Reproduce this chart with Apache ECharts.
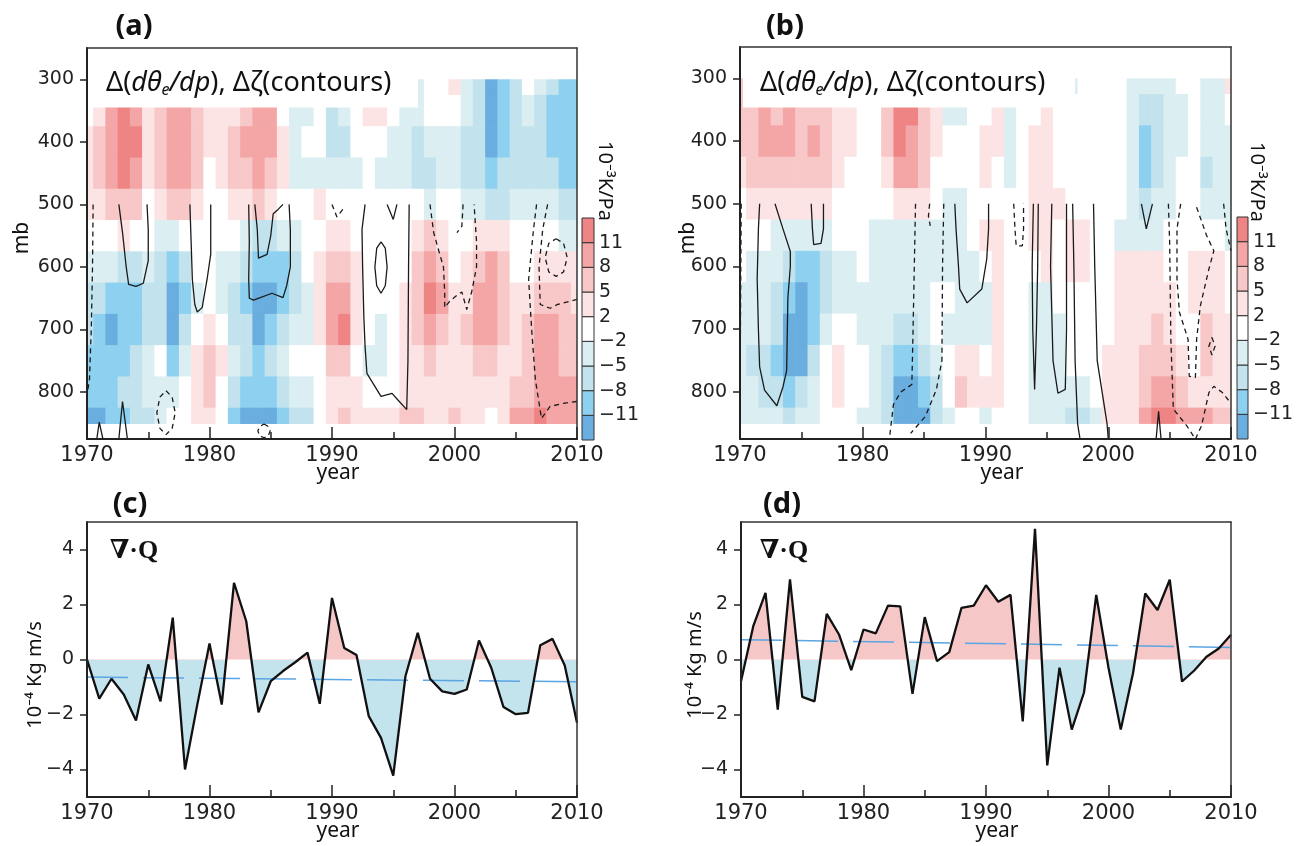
<!DOCTYPE html>
<html><head><meta charset="utf-8">
<script src="https://cdn.jsdelivr.net/npm/echarts@6/dist/echarts.min.js"></script>
<style>html,body{margin:0;padding:0;background:#fff}#main{width:1299px;height:846px}</style>
</head><body><div id="main"></div>
<script>
// ---------------- DATA ----------------
const YEARS = [1970,1971,1972,1973,1974,1975,1976,1977,1978,1979,1980,1981,1982,1983,1984,1985,1986,1987,1988,1989,1990,1991,1992,1993,1994,1995,1996,1997,1998,1999,2000,2001,2002,2003,2004,2005,2006,2007,2008,2009,2010];
const LEVELS = [300,350,400,450,500,550,600,650,700,750,800,850];
const P_TICKS = [300,400,500,600,700,800];
const Q_TICKS = [-4,-2,0,2,4];
const CB_BOUNDS = [-11,-8,-5,-2,2,5,8,11];
const CB_LABELS = ['\u221211','\u22128','\u22125','\u22122','2','5','8','11'];

// panel (a): d(theta_e)/dp anomaly, 10^-3 K/Pa, rows by level, columns 1970..2010 (null = hidden under title box)
const N27 = [null,null,null,null,null,null,null,null,null,null,null,null,null,null,null,null,null,null,null,null,null,null,null,null,null,null,null];
const A_300 = N27.concat([-3.5,0,0,3.5,-3.5,-6.5,-12,-9.5,-6.5,0,-3.5,-6.5,-9.5,-9.5]);
const A_350 = [0,3.5,9.5,12,9.5,3.5,6.5,9.5,9.5,6.5, 3.5,3.5,3.5,6.5,9.5,9.5,0,-3.5,-3.5,0, -6.5,-3.5,0,3.5,3.5,0,-3.5,-3.5,0,0, 0,-3.5,-6.5,-12,-9.5,-6.5,-3.5,-6.5,-9.5,-9.5, -9.5];
const A_400 = [3.5,6.5,9.5,12,12,3.5,6.5,9.5,9.5,6.5, 3.5,3.5,6.5,9.5,9.5,9.5,3.5,-3.5,0,0, -6.5,-6.5,0,0,0,-3.5,-3.5,-6.5,-3.5,-3.5, -3.5,-6.5,-6.5,-12,-9.5,-6.5,-6.5,-6.5,-9.5,-9.5, -9.5];
const A_450 = [3.5,6.5,9.5,12,9.5,3.5,6.5,9.5,9.5,6.5, 0,3.5,6.5,6.5,9.5,6.5,3.5,-3.5,-3.5,-3.5, -3.5,-3.5,-3.5,0,-3.5,-3.5,-3.5,-6.5,-6.5,-3.5, -3.5,-6.5,-6.5,-9.5,-6.5,-6.5,-6.5,-6.5,-6.5,-9.5, -9.5];
const A_500 = [3.5,3.5,6.5,6.5,6.5,0,3.5,6.5,6.5,3.5, 0,0,3.5,3.5,6.5,3.5,0,0,0,3.5, 0,0,0,0,0,0,0,0,-3.5,0, 0,-3.5,-3.5,-6.5,-6.5,-3.5,-3.5,-3.5,-3.5,-6.5, -6.5];
const A_550 = [0,0,0,3.5,0,0,-3.5,-3.5,0,0, 0,0,0,-3.5,-6.5,-6.5,-3.5,-3.5,0,0, 3.5,3.5,0,0,0,0,0,3.5,6.5,3.5, 0,0,3.5,3.5,3.5,0,0,0,0,-3.5, -3.5];
const A_600 = [-3.5,-3.5,-3.5,-6.5,-6.5,-3.5,-6.5,-9.5,-6.5,0, 0,-3.5,-3.5,-6.5,-9.5,-9.5,-9.5,-6.5,0,3.5, 6.5,6.5,3.5,0,0,0,0,6.5,9.5,6.5, 0,3.5,6.5,9.5,6.5,0,0,3.5,3.5,3.5, 3.5];
const A_650 = [-6.5,-6.5,-9.5,-9.5,-9.5,-6.5,-6.5,-12,-9.5,-3.5, 0,-3.5,-6.5,-9.5,-12,-12,-9.5,-6.5,-3.5,3.5, 9.5,9.5,3.5,0,0,0,3.5,6.5,12,9.5, 3.5,3.5,9.5,9.5,6.5,3.5,3.5,6.5,6.5,6.5, 3.5];
const A_700 = [-6.5,-9.5,-12,-9.5,-9.5,-6.5,-6.5,-12,-6.5,0, 3.5,0,-6.5,-6.5,-12,-9.5,-6.5,-3.5,-3.5,3.5, 9.5,12,3.5,0,-3.5,0,3.5,6.5,9.5,6.5, 3.5,6.5,9.5,9.5,6.5,3.5,6.5,9.5,9.5,6.5, 6.5];
const A_750 = [-9.5,-9.5,-9.5,-9.5,-6.5,-3.5,0,-9.5,-3.5,3.5, 6.5,3.5,-3.5,-6.5,-9.5,-6.5,-3.5,0,0,0, 6.5,6.5,0,-3.5,-3.5,0,3.5,3.5,6.5,3.5, 3.5,3.5,6.5,6.5,3.5,3.5,6.5,9.5,9.5,6.5, 6.5];
const A_800 = [-9.5,-9.5,-9.5,-6.5,-6.5,-3.5,-3.5,-3.5,0,3.5, 6.5,0,-6.5,-9.5,-9.5,-9.5,-6.5,-3.5,-3.5,0, 3.5,3.5,3.5,0,0,0,3.5,3.5,3.5,3.5, 3.5,3.5,3.5,3.5,3.5,6.5,6.5,9.5,9.5,9.5, 9.5];
const A_850 = [-12,-12,-9.5,-9.5,-6.5,-6.5,-3.5,0,0,3.5, 3.5,0,-9.5,-12,-12,-12,-9.5,-6.5,-6.5,0, 3.5,6.5,3.5,3.5,3.5,3.5,6.5,6.5,3.5,3.5, 6.5,3.5,3.5,0,3.5,9.5,9.5,12,9.5,9.5, 9.5];

// panel (b)
const N26 = [null,null,null,null,null,null,null,null,null,null,null,null,null,null,null,null,null,null,null,null,null,null,null,null,null,null];
const B_300 = [6.5].concat(N26, [-3.5,0,0,0,0,-3.5,-3.5,-3.5,-3.5,0,0,-3.5,-3.5,3.5]);
const B_350 = [6.5,6.5,9.5,6.5,9.5,6.5,6.5,6.5,3.5,3.5, 0,0,6.5,12,12,6.5,3.5,-3.5,-3.5,0, 0,3.5,-3.5,0,0,3.5,0,0,0,0, 0,0,-3.5,-6.5,-6.5,-3.5,-3.5,0,-3.5,-3.5, 0];
const B_400 = [6.5,6.5,9.5,9.5,9.5,6.5,9.5,6.5,3.5,3.5, 0,0,6.5,12,9.5,6.5,3.5,0,0,0, 3.5,3.5,-3.5,0,3.5,3.5,0,0,0,0, 0,0,-3.5,-9.5,-6.5,-3.5,-3.5,0,-3.5,-3.5, -3.5];
const B_450 = [3.5,6.5,6.5,6.5,6.5,6.5,6.5,6.5,3.5,0, 0,0,3.5,9.5,9.5,6.5,0,0,0,0, 3.5,0,-3.5,0,3.5,3.5,0,0,0,0, 0,0,-3.5,-9.5,-6.5,-3.5,0,0,-6.5,-3.5, -3.5];
const B_500 = [0,3.5,3.5,3.5,3.5,3.5,3.5,3.5,0,0, 0,0,0,3.5,3.5,3.5,0,-3.5,-3.5,0, 0,0,0,0,3.5,3.5,3.5,0,0,0, 0,0,-3.5,-6.5,-3.5,-3.5,0,0,-3.5,-3.5, -3.5];
const B_550 = [0,0,0,-3.5,-3.5,-3.5,-3.5,-3.5,0,0, 0,-3.5,-3.5,-3.5,-3.5,-3.5,-3.5,-3.5,-3.5,0, 3.5,3.5,0,0,3.5,3.5,0,3.5,3.5,0, 0,-3.5,-3.5,-3.5,-3.5,0,0,0,0,0, -3.5];
const B_600 = [0,-3.5,-3.5,-3.5,-6.5,-9.5,-9.5,-6.5,-3.5,-3.5, 0,-3.5,-3.5,-3.5,-3.5,-3.5,-3.5,-3.5,-3.5,-3.5, 0,3.5,0,0,0,3.5,0,3.5,3.5,0, 0,3.5,3.5,3.5,3.5,0,0,3.5,3.5,3.5, 0];
const B_650 = [-3.5,-3.5,-3.5,-6.5,-9.5,-12,-9.5,-6.5,-3.5,-3.5, -3.5,-3.5,-3.5,-3.5,-3.5,-3.5,0,0,-3.5,-3.5, -3.5,3.5,0,0,-3.5,-3.5,0,0,0,0, 0,3.5,3.5,3.5,3.5,3.5,0,3.5,3.5,3.5, 0];
const B_700 = [-3.5,-3.5,-3.5,-6.5,-12,-12,-9.5,-3.5,0,0, -3.5,-3.5,-3.5,-6.5,-6.5,-3.5,0,-3.5,-3.5,-3.5, -3.5,3.5,0,0,-3.5,-3.5,-3.5,0,0,0, 0,3.5,3.5,3.5,6.5,3.5,0,0,6.5,3.5, 3.5];
const B_750 = [-3.5,-6.5,-6.5,-9.5,-12,-12,-6.5,0,3.5,0, 0,-3.5,-6.5,-9.5,-9.5,-6.5,-3.5,0,3.5,3.5, 0,3.5,0,0,-3.5,-3.5,-3.5,0,0,0, 3.5,3.5,3.5,6.5,6.5,6.5,3.5,0,6.5,3.5, 3.5];
const B_800 = [-3.5,-3.5,-6.5,-6.5,-9.5,-6.5,-3.5,0,3.5,0, 0,-3.5,-6.5,-12,-12,-9.5,-6.5,0,6.5,3.5, 3.5,3.5,0,0,-3.5,-3.5,-3.5,-3.5,-3.5,0, 3.5,3.5,3.5,6.5,9.5,9.5,6.5,3.5,3.5,3.5, 3.5];
const B_850 = [-3.5,-3.5,-3.5,-3.5,-6.5,-3.5,-3.5,0,0,0, -3.5,-3.5,-6.5,-12,-12,-12,-6.5,-3.5,0,0, -3.5,0,0,0,-3.5,-3.5,-3.5,-6.5,-6.5,-3.5, 3.5,3.5,3.5,9.5,12,12,9.5,9.5,9.5,6.5, 6.5];

// vorticity contours (year, mb)
const A_CS1 = [[1972.6,500],[1972.9,545],[1973.2,600],[1973.4,628],[1974.0,631],[1974.6,626],[1975.0,590],[1975.0,540],[1974.9,500]];
const A_CS2 = [[1978.4,500],[1978.5,560],[1978.6,620],[1978.8,660],[1979.0,672],[1979.4,665],[1979.8,620],[1980.1,580],[1980.1,500]];
const A_CS3 = [[1983.2,500],[1983.25,560],[1983.2,620],[1983.25,650],[1983.6,653],[1985.1,642],[1986.0,649],[1986.3,630],[1986.6,600],[1986.6,540],[1986.5,500]];
const A_CS4 = [[1983.7,500],[1983.9,540],[1984.0,586],[1984.7,580],[1985.0,550],[1985.2,515],[1985.6,508],[1986.0,500]];
const A_CS5 = [[1992.7,500],[1992.45,540],[1992.5,600],[1992.6,680],[1992.7,727],[1992.85,770],[1994.0,807],[1994.9,802],[1995.4,813],[1996.1,828],[1996.2,750],[1996.25,600],[1996.3,500]];
const A_CS6 = [[1994.0,560],[1994.35,570],[1994.5,600],[1994.35,630],[1994.0,642],[1993.65,630],[1993.5,600],[1993.65,570],[1994.0,560]];
const A_CS7 = [[1994.5,500],[1995.0,524],[1995.3,500]];
const A_CS8 = [[1970.8,875],[1971.0,848],[1971.3,875]];
const A_CS9 = [[1972.6,875],[1972.9,815],[1973.3,875]];
const A_CD1 = [[1970.5,500],[1970.45,600],[1970.35,700],[1970.2,780],[1970.0,805]];
const A_CD2 = [[1998.0,500],[1998.3,545],[1998.8,580],[1999.1,600],[1999.2,640],[1999.2,665],[1999.6,655],[2000.2,645],[2000.6,640],[2001.0,668],[2001.4,640],[2001.8,600],[2001.8,560],[2001.6,500]];
const A_CD3 = [[2000.7,500],[2000.6,535],[2000.2,545]];
const A_CD4 = [[2006.7,500],[2006.45,540],[2006.05,620],[2006.3,700],[2006.6,780],[2007.1,842],[2007.8,823],[2008.9,818],[2010,815]];
const A_CD5 = [[2007.6,500],[2007.2,540],[2006.9,600],[2007.0,660],[2007.8,666],[2008.4,660],[2010,652]];
const A_CD6 = [[2008.3,555],[2008.9,562],[2009.2,585],[2008.9,608],[2008.3,615],[2007.7,608],[2007.4,585],[2007.7,562],[2008.3,555]];
const A_CD7 = [[1976.45,798],[1976.95,808],[1977.2,833],[1976.95,858],[1976.45,868],[1975.95,858],[1975.7,833],[1975.95,808],[1976.45,798]];
const A_CD8 = [[1984.45,851],[1984.8,855],[1984.95,862],[1984.8,870],[1984.45,873],[1984.1,870],[1983.95,862],[1984.1,855],[1984.45,851]];
const A_CD9 = [[1990.0,500],[1990.4,520],[1991.0,505]];

const B_CS1 = [[1971.6,500],[1971.5,540],[1971.4,620],[1971.5,700],[1971.6,760],[1972.0,797],[1973.0,822],[1973.5,792],[1973.8,766],[1973.9,650],[1974.1,600],[1974.1,576],[1973.5,540],[1972.85,500]];
const B_CS2 = [[1975.8,500],[1975.9,540],[1976.0,565],[1976.6,563],[1976.8,540],[1976.8,500]];
const B_CS3 = [[1987.5,500],[1987.6,540],[1987.8,600],[1987.9,636],[1988.5,658],[1989.7,636],[1990.1,588],[1990.25,540],[1990.25,500]];
const B_CS4 = [[1993.9,500],[1993.8,600],[1993.85,700],[1994.0,796],[1994.15,700],[1994.25,600],[1994.3,500]];
const B_CS5 = [[1995.4,500],[1995.3,600],[1995.5,750],[1995.9,802],[1996.5,796],[1996.6,700],[1996.6,500]];
const B_CS6 = [[1997.1,500],[1997.2,600],[1997.3,750],[1997.5,850],[1997.7,875]];
const B_CS7 = [[1998.8,500],[1998.9,600],[1999.1,750],[1999.9,850],[2000.0,875]];
const B_CS8 = [[2002.7,500],[2003.1,540],[2003.6,500]];
const B_CS9 = [[2003.9,875],[2004.1,831],[2004.3,875]];
const B_CD1 = [[1970.1,500],[1970.05,650],[1970.0,830]];
const B_CD2 = [[1984.3,500],[1984.2,600],[1984.1,700],[1984.0,788],[1983.1,800],[1982.5,820],[1982.2,870]];
const B_CD3 = [[1986.6,500],[1986.5,600],[1986.45,750],[1986.0,796],[1985.1,839],[1983.9,866]];
const B_CD4 = [[1985.45,500],[1985.35,520],[1985.5,535]];
const B_CD5 = [[1992.3,500],[1992.4,540],[1992.5,567],[1993.0,567],[1993.1,540],[1993.1,500]];
const B_CD6 = [[2004.9,500],[2005.0,560],[2005.1,716],[2005.3,827],[2006.4,854],[2007.1,875]];
const B_CD7 = [[2007.1,875],[2007.6,854],[2008.2,801],[2008.6,791],[2009.3,801],[2010,818]];
const B_CD8 = [[2009.4,500],[2009.6,540],[2010,575]];
const B_CD9 = [[2005.9,500],[2005.6,540],[2005.6,620],[2005.8,673],[2006.5,716],[2006.6,775],[2007.1,777],[2007.2,716],[2007.5,663],[2008.2,604],[2008.6,575],[2008.0,550],[2007.1,500]];
const B_CD10 = [[2008.45,713],[2008.7,727],[2008.45,741],[2008.2,727],[2008.45,713]];
const B_LABEL = [[1993.85,816]];
const B_LABEL_TEXT = '2.5';

// panels (c),(d): divergence of moisture flux, 10^-4 Kg m/s
const C_VALUES = [0,-1.42,-0.70,-1.27,-2.22,-0.18,-1.52,1.52,-4.0,-1.65, 0.58,-1.64,2.79,1.39,-1.92,-0.79,-0.42,-0.10,0.25,-1.61, 2.24,0.42,0.16,-2.06,-2.85,-4.22,-0.60,0.97,-0.70,-1.16, -1.25,-1.09,0.69,-0.30,-1.73,-1.99,-1.94,0.52,0.75,-0.22, -2.30];
const D_VALUES = [-0.79,1.21,2.42,-1.82,2.91,-1.36,-1.52,1.66,0.91,-0.39, 1.09,0.95,1.96,1.93,-1.25,1.54,-0.06,0.27,1.88,1.96, 2.70,2.10,2.35,-2.25,4.75,-3.85,-0.30,-2.55,-1.20,2.35, -0.30,-2.55,-0.50,2.40,1.80,2.90,-0.80,-0.40,0.10,0.40, 0.90];
const C_TREND = [[1970,-0.64],[2010,-0.81]];
const D_TREND = [[1970,0.72],[2010,0.44]];

// ---------------- STYLE / BUILD ----------------
const LEVEL_COLORS = ['#6aaddf','#8ed0f0','#c2e3ed','#dbeef1','#ffffff','#fce4e4','#f8c7c7','#f4a5a5','#ee8484'];
const FILL_POS = '#f5c7c7', FILL_NEG = '#c3e3ed';
const TICK_FONT = '"DejaVu Sans", sans-serif';
const TEXT_FONT = '"Noto Sans", "Open Sans", sans-serif';
const AX = '#222';

function colorOf(v){ let i=0; while(i<CB_BOUNDS.length && v>CB_BOUNDS[i]) i++; return LEVEL_COLORS[i]; }
function heatData(rows){ const out=[]; rows.forEach((row,li)=>row.forEach((v,yi)=>{ if(v!==null) out.push([YEARS[yi], LEVELS[li], v]); })); return out; }
function heatRender(params, api){
  const yr=api.value(0), p=api.value(1), v=api.value(2);
  const x0=Math.max(yr-0.5,1970), x1=Math.min(yr+0.5,2010);
  const p0=Math.max(p-25,300), p1=Math.min(p+25,850);
  const a=api.coord([x0,p0]), b=api.coord([x1,p1]);
  return {type:'rect', shape:{x:Math.min(a[0],b[0]), y:Math.min(a[1],b[1]), width:Math.abs(b[0]-a[0])+0.6, height:Math.abs(b[1]-a[1])+0.6}, style:{fill:colorOf(v)}};
}
function cbRender(params, api){
  const i=api.value(1);
  const a=api.coord([0,i]), b=api.coord([1,i+1]);
  return {type:'rect', shape:{x:a[0], y:b[1], width:b[0]-a[0], height:a[1]-b[1]}, style:{fill:LEVEL_COLORS[i], stroke:'#333', lineWidth:1}};
}
const CB_DATA = LEVEL_COLORS.map((c,i)=>[0.5,i]);

const grids = [
  {left:87, top:48, width:490, height:391},     // 0 a
  {left:582, top:218, width:12, height:222},    // 1 cb a
  {left:740, top:47, width:491, height:392},    // 2 b
  {left:1237, top:217, width:11, height:222},   // 3 cb b
  {left:87, top:522, width:490, height:275},    // 4 c
  {left:741, top:522, width:490, height:275}    // 5 d
].map(g=>Object.assign({containLabel:false, outerBoundsMode:'none'}, g));

function yearAxis(gi){
  return {gridIndex:gi, type:'value', min:1970, max:2010, interval:10, z:10,
    axisLine:{show:true, onZero:false, lineStyle:{color:AX, width:2}},
    axisTick:{show:true, inside:true, length:12, lineStyle:{color:AX, width:1.5}},
    minorTick:{show:true, splitNumber:2, length:7, lineStyle:{color:AX, width:1.5}},
    axisLabel:{fontSize:21, color:AX, margin:6, fontFamily:TICK_FONT, formatter:v=>String(v)},
    splitLine:{show:false}, minorSplitLine:{show:false}};
}
function frameAxisX(gi,min,max){ return {gridIndex:gi, type:'value', position:'top', min:min, max:max, z:10, axisLine:{show:true, onZero:false, lineStyle:{color:'#333', width:1.5}}, axisTick:{show:false}, axisLabel:{show:false}, splitLine:{show:false}}; }
function frameAxisY(gi,min,max,inv){ return {gridIndex:gi, type:'value', position:'right', min:min, max:max, inverse:!!inv, z:10, axisLine:{show:true, onZero:false, lineStyle:{color:'#333', width:1.5}}, axisTick:{show:false}, axisLabel:{show:false}, splitLine:{show:false}}; }
function presAxis(gi){
  return {gridIndex:gi, type:'value', min:250, max:875, inverse:true, z:10,
    axisLine:{show:true, onZero:false, lineStyle:{color:AX, width:2}},
    axisTick:{show:true, customValues:P_TICKS, length:7, lineStyle:{color:AX, width:1.5}},
    axisLabel:{customValues:P_TICKS, fontSize:19, color:AX, margin:13, fontFamily:TICK_FONT},
    splitLine:{show:false}};
}
function qAxis(gi){
  return {gridIndex:gi, type:'value', min:-5, max:5, z:10,
    axisLine:{show:true, onZero:false, lineStyle:{color:AX, width:2}},
    axisTick:{show:true, customValues:Q_TICKS, length:7, lineStyle:{color:AX, width:1.5}},
    axisLabel:{customValues:Q_TICKS, fontSize:19, color:AX, margin:13, fontFamily:TICK_FONT, formatter:v=>String(v).replace('-','\u2212')},
    splitLine:{show:false}};
}
function cbX(gi){ return {gridIndex:gi, type:'value', min:0, max:1, show:false}; }
function cbY(gi){
  return {gridIndex:gi, type:'value', min:0, max:9, position:'right',
    axisLine:{show:false}, axisTick:{show:false}, splitLine:{show:false},
    axisLabel:{customValues:[1,2,3,4,5,6,7,8], formatter:v=>CB_LABELS[v-1], fontSize:19, color:AX, margin:5, fontFamily:TICK_FONT}};
}

const xAxes = [yearAxis(0), cbX(1), yearAxis(2), cbX(3), yearAxis(4), yearAxis(5),
  frameAxisX(0,1970,2010), frameAxisX(2,1970,2010), frameAxisX(4,1970,2010), frameAxisX(5,1970,2010)];
const yAxes = [presAxis(0), cbY(1), presAxis(2), cbY(3), qAxis(4), qAxis(5),
  frameAxisY(0,250,875,true), frameAxisY(2,250,875,true), frameAxisY(4,-5,5), frameAxisY(5,-5,5)];

const series = [];
series.push({type:'custom', xAxisIndex:0, yAxisIndex:0, renderItem:heatRender, clip:true, silent:true, z:1,
  data:heatData([A_300,A_350,A_400,A_450,A_500,A_550,A_600,A_650,A_700,A_750,A_800,A_850])});
series.push({type:'custom', xAxisIndex:2, yAxisIndex:2, renderItem:heatRender, clip:true, silent:true, z:1,
  data:heatData([B_300,B_350,B_400,B_450,B_500,B_550,B_600,B_650,B_700,B_750,B_800,B_850])});
series.push({type:'custom', xAxisIndex:1, yAxisIndex:1, renderItem:cbRender, clip:false, silent:true, data:CB_DATA});
series.push({type:'custom', xAxisIndex:3, yAxisIndex:3, renderItem:cbRender, clip:false, silent:true, data:CB_DATA});

function contour(pts, ax, dashed){
  return {type:'line', xAxisIndex:ax, yAxisIndex:ax, data:pts, symbol:'none', showSymbol:false, silent:true, clip:true, z:5,
    lineStyle:{color:'#1a1a1a', width:1.3, type: dashed ? [5,4] : 'solid'}};
}
[A_CS1,A_CS2,A_CS3,A_CS4,A_CS5,A_CS6,A_CS7,A_CS8,A_CS9].forEach(c=>series.push(contour(c,0,false)));
[A_CD1,A_CD2,A_CD3,A_CD4,A_CD5,A_CD6,A_CD7,A_CD8,A_CD9].forEach(c=>series.push(contour(c,0,true)));
[B_CS1,B_CS2,B_CS3,B_CS4,B_CS5,B_CS6,B_CS7,B_CS8,B_CS9].forEach(c=>series.push(contour(c,2,false)));
[B_CD1,B_CD2,B_CD3,B_CD4,B_CD5,B_CD6,B_CD7,B_CD8,B_CD9,B_CD10].forEach(c=>series.push(contour(c,2,true)));
series.push({type:'scatter', xAxisIndex:2, yAxisIndex:2, data:B_LABEL, symbolSize:1, itemStyle:{opacity:0}, silent:true, z:6,
  label:{show:true, position:'inside', formatter:B_LABEL_TEXT, fontSize:13, color:'#333', fontFamily:TICK_FONT, backgroundColor:'#fff', padding:[1,2]}});

function pairs(vals){ return YEARS.map((y,i)=>[y, vals[i]]); }
const idxAreaC = series.length;
series.push({type:'line', xAxisIndex:4, yAxisIndex:4, data:pairs(C_VALUES), symbol:'none', silent:true, z:2, lineStyle:{width:0, opacity:0}, areaStyle:{opacity:1}});
series.push({type:'line', xAxisIndex:4, yAxisIndex:4, data:C_TREND, symbol:'none', silent:true, z:3, lineStyle:{color:'#5aa5e4', width:1.5, type:[41,15]}});
series.push({type:'line', xAxisIndex:4, yAxisIndex:4, data:pairs(C_VALUES), symbol:'none', silent:true, z:4, lineStyle:{color:'#111', width:2.3}});
const idxAreaD = series.length;
series.push({type:'line', xAxisIndex:5, yAxisIndex:5, data:pairs(D_VALUES), symbol:'none', silent:true, z:2, lineStyle:{width:0, opacity:0}, areaStyle:{opacity:1}});
series.push({type:'line', xAxisIndex:5, yAxisIndex:5, data:D_TREND, symbol:'none', silent:true, z:3, lineStyle:{color:'#5aa5e4', width:1.5, type:[41,15]}});
series.push({type:'line', xAxisIndex:5, yAxisIndex:5, data:pairs(D_VALUES), symbol:'none', silent:true, z:4, lineStyle:{color:'#111', width:2.3}});

const PIECES = [{gte:-100, lt:0, color:FILL_NEG},{gte:0, lte:100, color:FILL_POS}];

const TITLE_RICH = {
  n:{fontFamily:TEXT_FONT, fontSize:27, fill:'#111'},
  i:{fontFamily:TEXT_FONT, fontSize:27, fontStyle:'italic', fill:'#111'},
  s:{fontFamily:TEXT_FONT, fontSize:16, fontStyle:'italic', fill:'#111', padding:[15,0,0,0]}
};
const TITLE_TEXT = '{n|\u0394(}{i|d\u03b8}{s|e}{i|/dp}{n|), \u0394\u03b6(contours)}';
function txt(x,y,text,font,opts){ return Object.assign({type:'text', x:x, y:y, z:101, silent:true, style:{text:text, font:font, fill:'#111', align:'center', verticalAlign:'middle'}}, opts||{}); }

const graphic = [
  {type:'rect', shape:{x:89, y:49.5, width:329, height:58}, style:{fill:'#fff'}, z:100, silent:true},
  {type:'rect', shape:{x:743, y:48.5, width:332, height:59}, style:{fill:'#fff'}, z:100, silent:true},
  {type:'text', x:106, y:83, z:101, silent:true, style:{text:TITLE_TEXT, rich:TITLE_RICH, align:'left', verticalAlign:'middle'}},
  {type:'text', x:760, y:83, z:101, silent:true, style:{text:TITLE_TEXT, rich:TITLE_RICH, align:'left', verticalAlign:'middle'}},
  txt(134, 27, '(a)', 'bold 29px "Noto Sans", sans-serif'),
  txt(785, 27, '(b)', 'bold 29px "Noto Sans", sans-serif'),
  txt(130, 505, '(c)', 'bold 29px "Noto Sans", sans-serif'),
  txt(782, 505, '(d)', 'bold 29px "Noto Sans", sans-serif'),
  txt(22, 238, 'mb', '21px "Noto Sans", sans-serif', {rotation:Math.PI/2}),
  txt(688, 238, 'mb', '21px "Noto Sans", sans-serif', {rotation:Math.PI/2}),
  txt(338, 473, 'year', '21px "Noto Sans", sans-serif'),
  txt(1002, 473, 'year', '21px "Noto Sans", sans-serif'),
  txt(338, 831, 'year', '21px "Noto Sans", sans-serif'),
  txt(997, 831, 'year', '21px "Noto Sans", sans-serif'),
  txt(605, 181, '10\u207b\u00b3K/Pa', '20px "Noto Sans", sans-serif', {rotation:-Math.PI/2}),
  txt(1257, 182, '10\u207b\u00b3K/Pa', '20px "Noto Sans", sans-serif', {rotation:-Math.PI/2}),
  txt(35, 675, '10\u207b\u2074 Kg m/s', '20px "Noto Sans", sans-serif', {rotation:Math.PI/2}),
  txt(695, 665, '10\u207b\u2074 Kg m/s', '20px "Noto Sans", sans-serif', {rotation:Math.PI/2}),
  txt(134, 551, '\u2207\u00b7Q', 'bold 26px "Liberation Serif", "DejaVu Serif", serif'),
  txt(784, 551, '\u2207\u00b7Q', 'bold 26px "Liberation Serif", "DejaVu Serif", serif')
];

const chart = echarts.init(document.getElementById('main'), null, {renderer:'canvas', width:1299, height:846});
chart.setOption({
  animation:false,
  backgroundColor:'#ffffff',
  grid:grids,
  xAxis:xAxes,
  yAxis:yAxes,
  visualMap:[
    {type:'piecewise', show:false, seriesIndex:idxAreaC, dimension:1, pieces:PIECES},
    {type:'piecewise', show:false, seriesIndex:idxAreaD, dimension:1, pieces:PIECES}
  ],
  series:series,
  graphic:graphic
});
</script></body></html>
